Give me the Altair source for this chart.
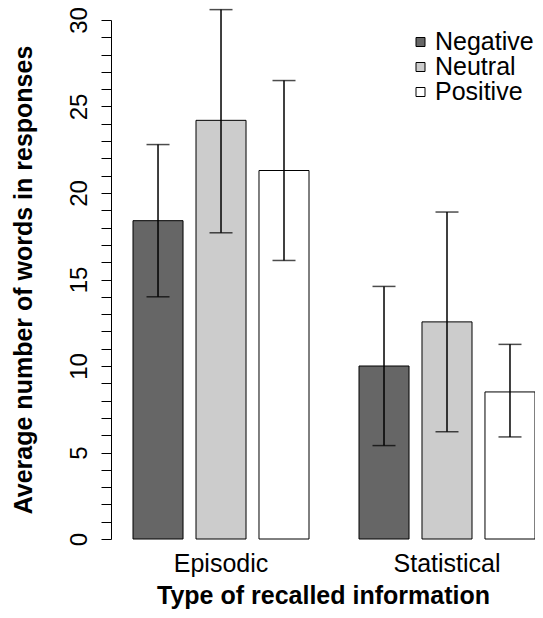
import altair as alt
import pandas as pd

groups = ["Episodic", "Episodic", "Episodic", "Statistical", "Statistical", "Statistical"]
valence = ["Negative", "Neutral", "Positive", "Negative", "Neutral", "Positive"]
means = [18.4, 24.2, 21.3, 10.0, 12.55, 8.5]
lower = [14.0, 17.7, 16.1, 5.4, 6.2, 5.9]
upper = [22.8, 30.6, 26.5, 14.6, 18.9, 11.25]

valence_order = ["Negative", "Neutral", "Positive"]
fill_colors = ["#666666", "#cccccc", "#ffffff"]
y_ticks = list(range(0, 31))

df = pd.DataFrame({"group": groups, "valence": valence, "mean": means,
                   "lower": lower, "upper": upper})

FONT = "Liberation Sans"

x_enc = alt.X("group:N",
              scale=alt.Scale(paddingInner=0.2212, paddingOuter=0.0487, align=1),
              axis=alt.Axis(title="Type of recalled information", domain=False, ticks=False,
                            tickSize=0, labelAngle=0, labelFontSize=25, labelFont=FONT,
                            labelColor="black", labelPadding=32, labelBaseline="alphabetic",
                            titleFontSize=25, titleFont=FONT, titleFontWeight="bold",
                            titleColor="black", titleY=64, titleBaseline="alphabetic"))
xo_enc = alt.XOffset("valence:N", sort=valence_order,
                     scale=alt.Scale(paddingInner=0.206, paddingOuter=0))
y_axis = alt.Axis(title="Average number of words in responses", values=y_ticks,
                  labelExpr="datum.value % 5 == 0 ? datum.label : ''",
                  grid=False, tickSize=10, tickColor="black", tickWidth=1,
                  domainColor="black", domainWidth=1,
                  labelAngle=270, labelAlign="center", labelBaseline="alphabetic",
                  labelPadding=15, labelFontSize=24, labelFont=FONT, labelColor="black",
                  titleFontSize=25, titleFont=FONT, titleFontWeight="bold", titleColor="black",
                  titleAngle=270, titleAlign="center", titleBaseline="alphabetic",
                  titleX=-80, titleY=259.5)
y_scale = alt.Scale(domain=[0, 30], nice=False, zero=True)

base = alt.Chart(df)

bars = base.mark_bar(stroke="black", strokeWidth=1).encode(
    x=x_enc, xOffset=xo_enc,
    y=alt.Y("mean:Q", scale=y_scale, axis=y_axis),
    fill=alt.Fill("valence:N", sort=valence_order,
                  scale=alt.Scale(domain=valence_order, range=fill_colors),
                  legend=alt.Legend(title=None, orient="none", legendX=297, legendY=10,
                                    symbolType="square", symbolSize=81,
                                    symbolStrokeColor="black", symbolStrokeWidth=1,
                                    labelFontSize=25, labelFont=FONT, labelColor="black",
                                    labelOffset=2, rowPadding=0, clipHeight=24)),
)

rules = base.mark_rule(color="black", strokeWidth=1.5).encode(
    x=x_enc, xOffset=xo_enc,
    y=alt.Y("lower:Q", scale=y_scale, axis=y_axis),
    y2="upper:Q",
)

ticks_lo = base.mark_tick(color="black", size=23, thickness=1.5, orient="horizontal").encode(
    x=x_enc, xOffset=xo_enc,
    y=alt.Y("lower:Q", scale=y_scale, axis=y_axis),
)

ticks_hi = base.mark_tick(color="black", size=23, thickness=1.5, orient="horizontal").encode(
    x=x_enc, xOffset=xo_enc,
    y=alt.Y("upper:Q", scale=y_scale, axis=y_axis),
)

chart = alt.layer(bars, rules, ticks_lo, ticks_hi).properties(
    width=424, height=519,
    padding={"left": 103, "top": 12, "right": 0, "bottom": 70},
    autosize=alt.AutoSizeParams(type="none"),
    background="white",
).configure_view(stroke=None)

chart.save("out.html", embed_options={"renderer": "svg", "actions": False})
